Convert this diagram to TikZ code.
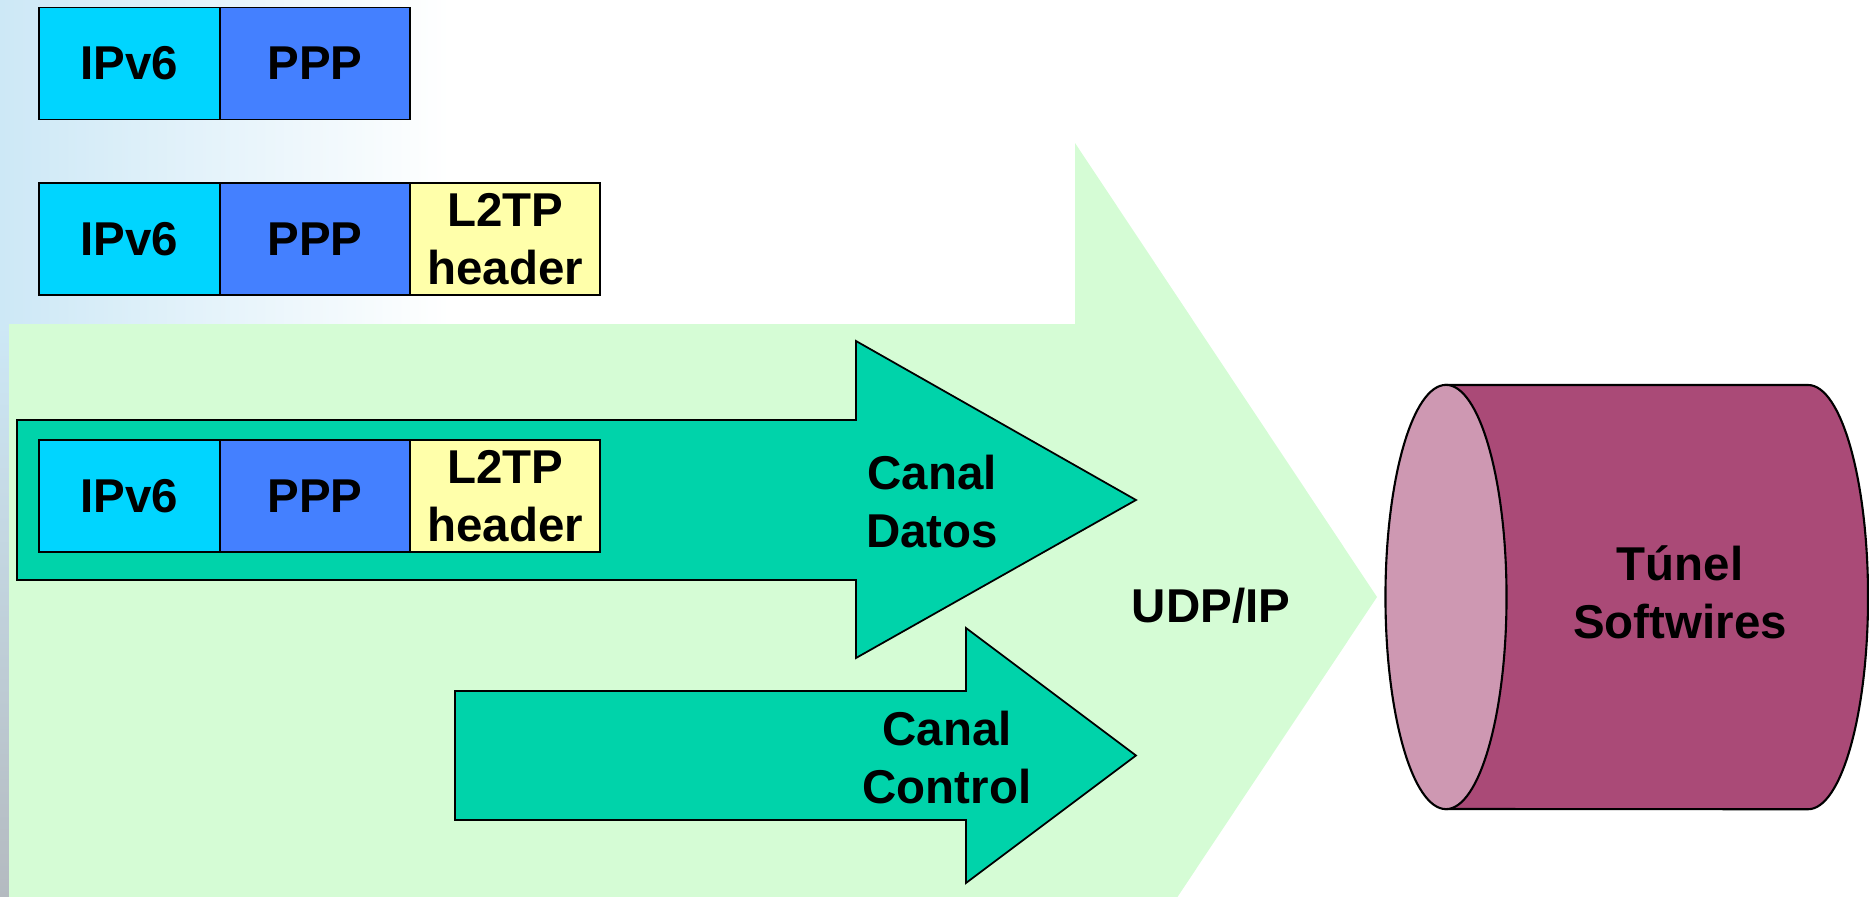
\documentclass[tikz,border=0pt]{standalone}
\usepackage{fontspec}
\setmainfont{Liberation Sans}
\usetikzlibrary{positioning}
\definecolor{ipcol}{RGB}{0,213,255}
\definecolor{pppcol}{RGB}{68,128,255}
\definecolor{l2tpcol}{RGB}{255,255,170}
\definecolor{udpcol}{RGB}{213,252,213}
\definecolor{chancol}{RGB}{0,211,170}
\definecolor{tubecol}{RGB}{170,74,119}
\definecolor{mouthcol}{RGB}{206,152,178}
\definecolor{bgblue}{RGB}{205,232,246}
\definecolor{bggrey}{RGB}{180,186,192}
\begin{document}
\begin{tikzpicture}[x=0.01cm, y=-0.01cm,
    font=\fontsize{13.5}{16.5}\selectfont\bfseries,
    field/.style={draw, line width=0.5pt, rectangle, outer sep=0pt, inner sep=0pt,
        minimum height=1.12cm, align=center},
    channel/.style={draw, line width=0.5pt, fill=chancol}]
    \useasboundingbox (0,0) rectangle (1869,897);
    \clip (0,0) rectangle (1869,897);
    % slide background
    \shade[left color=bgblue, right color=white] (0,0) rectangle (450,324);
    \shade[top color=bgblue, bottom color=bggrey] (0,324) rectangle (9,897);
    % UDP/IP arrow
    \fill[udpcol] (9,324) -- (1075,324) -- (1075,143) -- (1377,597) -- (1075,1051)
        -- (1075,960) -- (9,960) -- cycle;
    % channels
    \draw[channel] (17,420) -- (856,420) -- (856,341) -- (1136,500) -- (856,658)
        -- (856,580) -- (17,580) -- cycle;
    \draw[channel] (455,691) -- (966,691) -- (966,628) -- (1136,755.5) -- (966,883)
        -- (966,820) -- (455,820) -- cycle;
    % packets
    \node[field, fill=ipcol, minimum width=1.81cm] (ipa) at (129.5,63.5) {IPv6};
    \node[field, fill=pppcol, minimum width=1.90cm, right=0pt of ipa] (pppa) {PPP};
    \node[field, fill=ipcol, minimum width=1.81cm] (ipb) at (129.5,239) {IPv6};
    \node[field, fill=pppcol, minimum width=1.90cm, right=0pt of ipb] (pppb) {PPP};
    \node[field, fill=l2tpcol, minimum width=1.90cm, right=0pt of pppb] (l2tpb) {L2TP\\header};
    \node[field, fill=ipcol, minimum width=1.81cm] (ipc) at (129.5,496) {IPv6};
    \node[field, fill=pppcol, minimum width=1.90cm, right=0pt of ipc] (pppc) {PPP};
    \node[field, fill=l2tpcol, minimum width=1.90cm, right=0pt of pppc] (l2tpc) {L2TP\\header};
    % labels
    \node[align=center] (datos) at (932,502) {Canal\\Datos};
    \node[align=center] (control) at (947,758) {Canal\\Control};
    \node (udp) at (1211,606) {UDP/IP};
    % tunnel
    \draw[line width=0.6pt, fill=tubecol] (1446,385) -- (1808,385)
        arc[start angle=90, end angle=-90, x radius=0.6cm, y radius=2.12cm] -- (1446,809) -- cycle;
    \draw[line width=0.6pt, fill=mouthcol] (1446,597) ellipse [x radius=0.605cm, y radius=2.12cm];
    \node[align=center] (tunel) at (1680,592) {Túnel\\Softwires};
\end{tikzpicture}
\end{document}
